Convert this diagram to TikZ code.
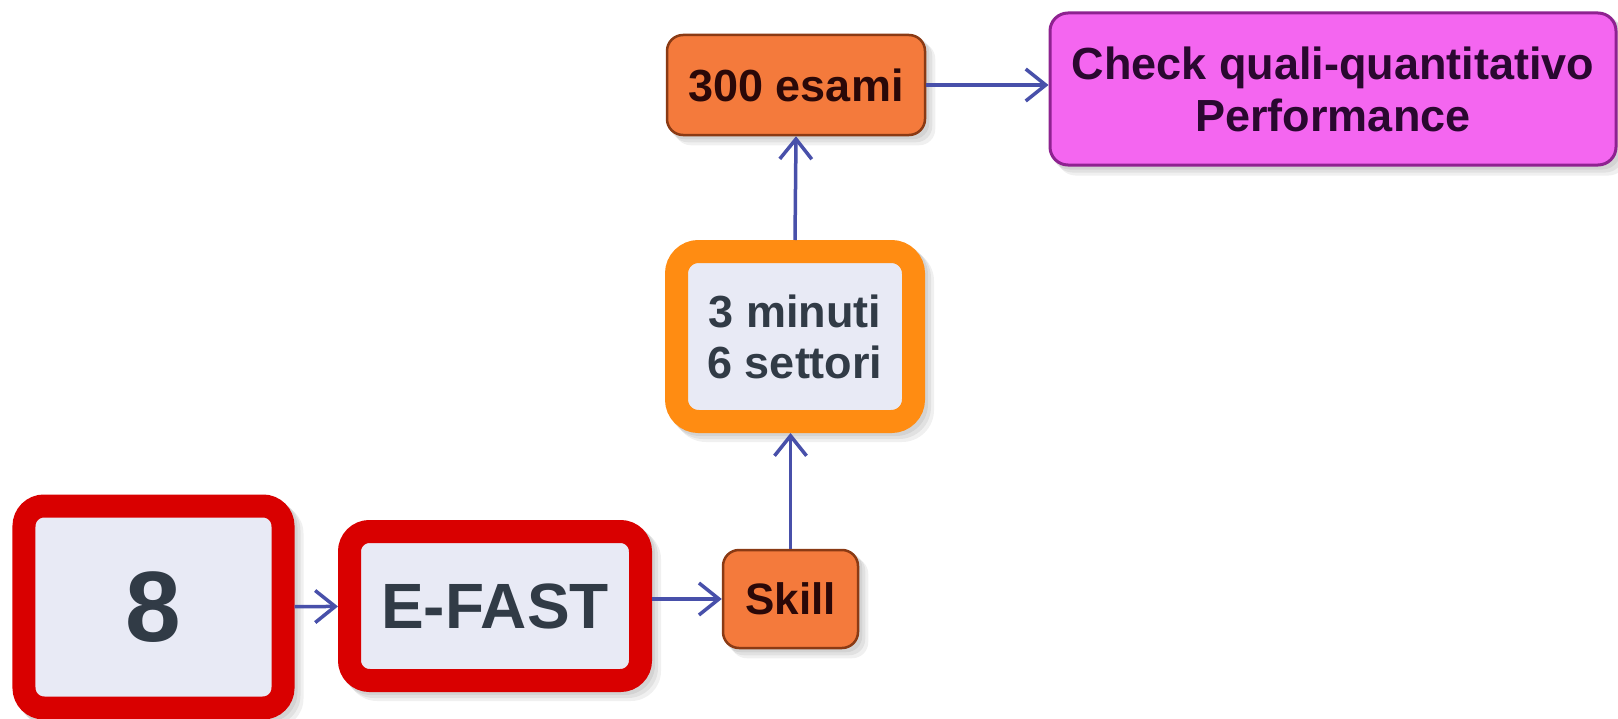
\documentclass[tikz,border=0pt]{standalone}
\usepackage{fontspec}
\setmainfont{Liberation Sans}
\usetikzlibrary{arrows.meta,backgrounds,calc}
\definecolor{redb}{HTML}{D90000}
\definecolor{orangeb}{HTML}{FF8C12}
\definecolor{innerfill}{HTML}{E8EAF5}
\definecolor{orfill}{HTML}{F47A3C}
\definecolor{orline}{HTML}{8A3A14}
\definecolor{magfill}{HTML}{F466F0}
\definecolor{magline}{HTML}{8E2290}
\definecolor{arrcol}{HTML}{4850AA}
\definecolor{txtgray}{HTML}{313B46}
\definecolor{txtdark}{HTML}{2A0808}
\definecolor{txtmag}{HTML}{2A0830}
\newcommand\myshadow[2]{%
  \foreach \d in {3,6,9}{%
    \fill[black,opacity=0.06,rounded corners=#2]
      ($(#1.south west)+(\d,\d)$) rectangle ($(#1.north east)+(\d,\d)$);}}
\tikzset{
  thickbox/.style={rectangle, rounded corners=20bp, line width=23bp,
    fill=innerfill, text=txtgray, inner sep=0pt, align=center},
  redbox/.style={thickbox, draw=redb},
  orbox/.style={thickbox, draw=orangeb, rounded corners=22bp},
  solidbox/.style={rectangle, rounded corners=16bp, line width=2.5bp,
    inner sep=0pt, align=center},
  orsolid/.style={solidbox, fill=orfill, draw=orline, text=txtdark},
  conn/.style={draw=arrcol, line width=3.5bp,
    -{Straight Barb[length=20bp,width=32bp,line width=3.5bp]}},
  txtA/.style={font=\fontsize{45bp}{52bp}\selectfont\bfseries},
}
\begin{document}
\begin{tikzpicture}[x=1bp,y=-1bp]
\useasboundingbox (0,0) rectangle (1618,719);

\node[redbox, minimum width=259bp, minimum height=202bp,
      font=\fontsize{100bp}{100bp}\selectfont\bfseries] (eight) at (153.5,607) {8};
\node[redbox, minimum width=291bp, minimum height=149bp,
      font=\fontsize{64bp}{64bp}\selectfont\bfseries] (efast) at (495,606) {E-FAST};
\node[orsolid, minimum width=135bp, minimum height=98bp,
      font=\fontsize{44bp}{50bp}\selectfont\bfseries] (skill) at (790.5,599) {Skill};
\node[orbox, minimum width=237bp, minimum height=170bp,
      font=\fontsize{45bp}{51bp}\selectfont\bfseries] (mins) at (795,336.5) {3 minuti\\6 settori};
\node[orsolid, minimum width=258bp, minimum height=100bp, txtA] (esami) at (796,85) {300 esami};
\node[solidbox, fill=magfill, draw=magline, text=txtmag, line width=3bp,
      minimum width=566bp, minimum height=152bp, rounded corners=18bp, txtA]
      (check) at (1333,89) {Check quali-quantitativo\\Performance};

\draw[conn] (eight) -- (efast);
\draw[conn] (efast.east |- skill) -- (skill.west);
\draw[conn] (skill.north) -- (skill.north |- mins.south);
\draw[conn] (mins.north) -- (esami.south);
\draw[conn] (esami.east) -- (esami.east -| check.west);

\begin{scope}[on background layer]
  \fill[white] (0,0) rectangle (1618,719);
  \myshadow{eight}{30bp}
  \myshadow{efast}{30bp}
  \myshadow{skill}{16bp}
  \myshadow{mins}{32bp}
  \myshadow{esami}{16bp}
  \myshadow{check}{18bp}
\end{scope}
\end{tikzpicture}
\end{document}
